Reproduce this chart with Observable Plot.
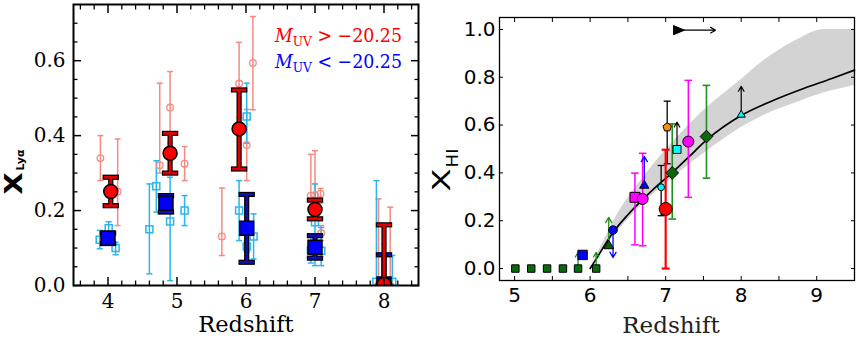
<!DOCTYPE html>
<html><head><meta charset="utf-8">
<script src="https://cdn.jsdelivr.net/npm/d3@7"></script>
<script src="https://cdn.jsdelivr.net/npm/@observablehq/plot@0.6"></script>
<style>
html,body{margin:0;padding:0;background:#fff;}
#wrap{position:relative;width:858px;height:340px;overflow:hidden;background:#fff;}
#left{position:absolute;left:0;top:0;}
#right{position:absolute;left:420px;top:0;}
</style></head><body>
<div id="wrap"><div id="left"></div><div id="right"></div></div>
<script>
// ================= LEFT PANEL DATA (redshift, X_Lya) =================
const bigRedX  = [4.04, 4.90, 5.90, 7.00, 8.00];
const bigRedY  = [0.251, 0.353, 0.418, 0.203, 0.003];
const bigRedLo = [0.213, 0.300, 0.311, 0.178, 0.000];
const bigRedHi = [0.289, 0.406, 0.522, 0.228, 0.162];

const bigBlueX  = [4.00, 4.84, 6.01, 7.00, 8.00];
const bigBlueY  = [0.126, 0.220, 0.153, 0.102, 0.004];
const bigBlueLo = [0.112, 0.196, 0.062, 0.073, 0.000];
const bigBlueHi = [0.140, 0.240, 0.243, 0.133, 0.082];

const faintRedX  = [3.89, 4.14, 4.75, 4.90, 5.11, 5.65, 5.90, 6.01, 6.10, 6.94, 7.00, 7.08, 7.09, 7.92, 8.00, 8.09];
const faintRedY  = [0.340, 0.251, 0.321, 0.475, 0.325, 0.131, 0.539, 0.375, 0.594, 0.240, 0.242, 0.245, 0.140, 0.000, 0.000, 0.000];
const faintRedLo = [0.280, 0.160, 0.300, 0.380, 0.280, 0.080, 0.450, 0.280, 0.469, 0.200, 0.200, 0.220, 0.120, 0.000, 0.000, 0.000];
const faintRedHi = [0.400, 0.391, 0.540, 0.571, 0.371, 0.260, 0.649, 0.470, 0.718, 0.350, 0.360, 0.259, 0.160, 0.231, 0.112, 0.209];

const faintBlueX  = [3.88, 4.01, 4.11, 4.60, 4.70, 4.90, 5.11, 5.90, 6.01, 6.01, 6.11, 6.94, 7.00, 7.09, 7.89, 8.12];
const faintBlueY  = [0.122, 0.153, 0.100, 0.150, 0.265, 0.171, 0.200, 0.200, 0.451, 0.104, 0.131, 0.095, 0.169, 0.093, 0.010, 0.010];
const faintBlueLo = [0.098, 0.135, 0.082, 0.031, 0.196, 0.013, 0.160, 0.120, 0.380, 0.090, 0.071, 0.060, 0.053, 0.053, 0.000, 0.000];
const faintBlueHi = [0.147, 0.170, 0.115, 0.271, 0.333, 0.289, 0.240, 0.280, 0.540, 0.120, 0.191, 0.130, 0.271, 0.155, 0.280, 0.080];

const leftXTicks = [4, 5, 6, 7, 8];
const leftXMinor = [3.6, 3.8, 4.2, 4.4, 4.6, 4.8, 5.2, 5.4, 5.6, 5.8, 6.2, 6.4, 6.6, 6.8, 7.2, 7.4, 7.6, 7.8, 8.2, 8.4];
const leftYTicks = [0, 0.2, 0.4, 0.6];
const leftYMinor = [0.05, 0.1, 0.15, 0.25, 0.3, 0.35, 0.45, 0.5, 0.55, 0.65, 0.7];

// ================= RIGHT PANEL DATA (redshift, X_HI) =================
const curveZ = [6.0, 6.1, 6.3, 6.5, 6.7, 6.9, 7.1, 7.3, 7.55, 8.0, 8.4, 8.8, 9.2, 9.5];
const curveX = [0.0, 0.05, 0.15, 0.225, 0.29, 0.35, 0.405, 0.465, 0.54, 0.64, 0.70, 0.75, 0.795, 0.83];
const bandZ  = [6.05, 6.35, 6.8, 7.25, 7.5, 8.0, 8.3, 8.7, 9.1, 9.5];
const bandHi = [0.03, 0.22, 0.42, 0.58, 0.66, 0.79, 0.87, 0.95, 1.0, 1.0];
const bandLo = [0.03, 0.15, 0.30, 0.42, 0.48, 0.59, 0.64, 0.69, 0.735, 0.766];

const greenSqZ = [5.01, 5.22, 5.43, 5.64, 5.84, 6.08];
const greenSqX = [0, 0, 0, 0, 0, 0];
const greenLimZ = [5.84, 6.08, 6.246];
const greenLimFrom = [0.0, 0.0, 0.095];
const greenLimTo = [0.068, 0.068, 0.214];
const blueSqZ = [5.90], blueSqX = [0.057];
const darkTriZ = [6.246], darkTriX = [0.095];
const blueCircZ = [6.303], blueCircX = [0.161], blueCircTo = [0.046];
const magSqZ = [6.593], magSqX = [0.298], magSqLo = [0.099], magSqHi = [0.399];
const magCircZ = [6.695, 7.30], magCircX = [0.291, 0.531], magCircLo = [0.095, 0.298], magCircHi = [0.482, 0.787];
const blueTriZ = [6.717], blueTriX = [0.347], blueTriTo = [0.469];
const cyanCircZ = [6.94], cyanCircX = [0.340], cyanCircLo = [0.221], cyanCircHi = [0.431];
const redCircZ = [7.00], redCircX = [0.249], redCircLo = [0.0], redCircHi = [0.497];
const pentZ = [7.02], pentX = [0.591], pentLo = [0.438], pentHi = [0.700];
const diaZ = [7.087, 7.54], diaX = [0.400, 0.552], diaLo = [0.207, 0.378], diaHi = [0.605, 0.766];
const cyanSqZ = [7.15], cyanSqX = [0.498], cyanSqTo = [0.612];
const cyanTriZ = [8.00], cyanTriX = [0.643], cyanTriTo = [0.762];
const blackTriZ = [7.17], blackTriX = [0.997], blackTriToZ = [7.66];

const rightXTicks = [5, 6, 7, 8, 9];
const rightXMinor = [5.5, 6.5, 7.5, 8.5];
const rightYTicks = [0, 0.2, 0.4, 0.6, 0.8, 1.0];

// ================= helpers =================
const rows = (xs, ys, los, his) => xs.map((x, i) => ({x, y: ys[i], lo: los ? los[i] : null, hi: his ? his[i] : null}));
const capSym = {draw(ctx, size) { const w = Math.sqrt(size) / 2; ctx.moveTo(-w, 0); ctx.lineTo(w, 0); }};
const capR = h => 2 * h / Math.sqrt(Math.PI);
const triRight = {draw(ctx, size) { const s = Math.sqrt(size); ctx.moveTo(0.6 * s, 0); ctx.lineTo(-0.5 * s, -0.46 * s); ctx.lineTo(-0.5 * s, 0.46 * s); ctx.closePath(); }};
const pentagon = {draw(ctx, size) { const R = Math.sqrt(size / 2.378); for (let i = 0; i < 5; i++) { const a = -Math.PI / 2 + i * 2 * Math.PI / 5; const px = R * Math.cos(a), py = R * Math.sin(a); if (i) ctx.lineTo(px, py); else ctx.moveTo(px, py); } ctx.closePath(); }};

function errbars(data, {color, width, capHalf, outline = 0, clip = true}) {
  const caps = data.flatMap(d => [{x: d.x, y: d.lo}, {x: d.x, y: d.hi}]);
  const marks = [];
  if (outline > 0) {
    marks.push(Plot.ruleX(data, {x: "x", y1: "lo", y2: "hi", stroke: "black", strokeWidth: width + 2 * outline, clip}));
    marks.push(Plot.dot(caps, {x: "x", y: "y", symbol: capSym, r: capR(capHalf + outline), fill: "none", stroke: "black", strokeWidth: width + 2 * outline, clip}));
  }
  marks.push(Plot.ruleX(data, {x: "x", y1: "lo", y2: "hi", stroke: color, strokeWidth: width, clip}));
  marks.push(Plot.dot(caps, {x: "x", y: "y", symbol: capSym, r: capR(capHalf), fill: "none", stroke: color, strokeWidth: width, clip}));
  return marks;
}

const bigRed = rows(bigRedX, bigRedY, bigRedLo, bigRedHi);
const bigBlue = rows(bigBlueX, bigBlueY, bigBlueLo, bigBlueHi);
const faintRed = rows(faintRedX, faintRedY, faintRedLo, faintRedHi);
const faintBlue = rows(faintBlueX, faintBlueY, faintBlueLo, faintBlueHi);

const SALMON = "#f58a80", SKY = "#2ab5ee";
const SERIF = "DejaVu Serif", SANS = "DejaVu Sans";

const left = Plot.plot({
  width: 420, height: 340,
  marginLeft: 73, marginRight: 2, marginTop: 4, marginBottom: 55,
  x: {domain: [3.5, 8.5], label: null},
  y: {domain: [0, 0.75], label: null},
  style: {fontFamily: SERIF, fontSize: "20px", background: "white", color: "black", overflow: "visible"},
  marks: [
    ...errbars(faintRed, {color: SALMON, width: 1.5, capHalf: 3}),
    ...errbars(faintBlue, {color: SKY, width: 1.5, capHalf: 3}),
    Plot.dot(faintRed, {x: "x", y: "y", r: 3.3, fill: "none", stroke: SALMON, strokeWidth: 1.3, clip: true}),
    Plot.dot(faintBlue, {x: "x", y: "y", symbol: "square", r: 3.95, fill: "none", stroke: SKY, strokeWidth: 1.5, clip: true}),
    ...errbars(bigBlue, {color: "#1010b0", width: 2.8, capHalf: 7, outline: 1.2}),
    Plot.dot(bigBlue, {x: "x", y: "y", symbol: "square", r: 7.9, fill: "#0000ff", stroke: "black", strokeWidth: 1.5, clip: true}),
    ...errbars(bigRed, {color: "#e00000", width: 2.8, capHalf: 7, outline: 1.2}),
    Plot.dot(bigRed, {x: "x", y: "y", r: 7, fill: "#ff0000", stroke: "black", strokeWidth: 1.5, clip: true}),
    Plot.frame({stroke: "black", strokeWidth: 2}),
    Plot.axisX({ticks: leftXTicks, tickSize: -8, tickPadding: 16, tickFormat: d => String(d), strokeWidth: 1.5, fontSize: 20, fontFamily: SERIF, label: null}),
    Plot.axisX({ticks: leftXMinor, tickSize: -4.5, tickFormat: () => "", strokeWidth: 1.3, label: null}),
    Plot.axisX({anchor: "top", ticks: leftXTicks, tickSize: -8, tickFormat: () => "", strokeWidth: 1.5, label: null}),
    Plot.axisX({anchor: "top", ticks: leftXMinor, tickSize: -4.5, tickFormat: () => "", strokeWidth: 1.3, label: null}),
    Plot.axisY({ticks: leftYTicks, tickSize: -8, tickPadding: 16, tickFormat: d3.format(".1f"), strokeWidth: 1.5, fontSize: 20, fontFamily: SERIF, label: null}),
    Plot.axisY({ticks: leftYMinor, tickSize: -4.5, tickFormat: () => "", strokeWidth: 1.3, label: null}),
    Plot.axisY({anchor: "right", ticks: leftYTicks, tickSize: -8, tickFormat: () => "", strokeWidth: 1.5, label: null}),
    Plot.axisY({anchor: "right", ticks: leftYMinor, tickSize: -4.5, tickFormat: () => "", strokeWidth: 1.3, label: null})
  ]
});
document.getElementById("left").appendChild(left);
d3.select(left).selectAll("text").style("font-family", SERIF).style("font-size", "20px");

function txt(sel, family, size) {
  return sel.append("text").style("font-family", family).style("font-size", size + "px");
}

// labels for left panel
{
  const s = d3.select(left);
  txt(s, SERIF, 22.5).attr("x", 246).attr("y", 332).attr("text-anchor", "middle").attr("fill", "black").text("Redshift");
  const yl = txt(s, SANS, 25).attr("transform", "translate(22,172) rotate(-90)").style("font-weight", "bold").attr("fill", "black");
  yl.append("tspan").attr("textLength", 22).attr("lengthAdjust", "spacingAndGlyphs").text("X");
  yl.append("tspan").style("font-size", "11px").attr("dy", 1.5).attr("dx", 2).text("Lyα");
  const leg = [["#ff0000", ">", 42], ["#0000ff", "<", 68]];
  for (const [c, op, y] of leg) {
    const t = txt(s, SERIF, 18.5).attr("x", 275).attr("y", y).attr("text-anchor", "start").attr("fill", c)
      .attr("textLength", 127).attr("lengthAdjust", "spacingAndGlyphs");
    t.append("tspan").style("font-style", "italic").style("font-family", SERIF).text("M");
    t.append("tspan").style("font-size", "13px").style("font-family", SERIF).attr("dy", 4).text("UV");
    t.append("tspan").style("font-family", SERIF).attr("dy", -4).text(" " + op + " −20.25");
  }
}

// ================= RIGHT PANEL =================
const curve = curveZ.map((x, i) => ({x, y: curveX[i]}));
const band = bandZ.map((x, i) => ({x, lo: bandLo[i], hi: bandHi[i]}));
const arrowsUp = (zs, from, to) => zs.map((x, i) => ({x1: x, y1: from[i], x2: x, y2: to[i]}));

const GREEN_SQ = "#0b6b0b", GREEN_L = "#1f8f1f", MAG = "#ff00ff", CYAN = "#00ffff";

const right = Plot.plot({
  width: 438, height: 340,
  marginLeft: 79, marginRight: 4, marginTop: 17, marginBottom: 60,
  x: {domain: [4.8, 9.5], label: null},
  y: {domain: [-0.05, 1.05], label: null},
  style: {fontFamily: SANS, fontSize: "20px", background: "white", color: "black", overflow: "visible"},
  marks: [
    Plot.areaY(band, {x: "x", y1: "lo", y2: "hi", fill: "#d3d3d3", curve: "monotone-x"}),
    Plot.line(curve, {x: "x", y: "y", stroke: "black", strokeWidth: 1.7, curve: "monotone-x"}),
    ...errbars(rows(magSqZ, magSqX, magSqLo, magSqHi), {color: MAG, width: 1.5, capHalf: 3.8, clip: false}),
    ...errbars(rows(magCircZ, magCircX, magCircLo, magCircHi), {color: MAG, width: 1.5, capHalf: 3.8, clip: false}),
    ...errbars(rows(cyanCircZ, cyanCircX, cyanCircLo, cyanCircHi), {color: "black", width: 1.3, capHalf: 3.5, clip: false}),
    ...errbars(rows(pentZ, pentX, pentLo, pentHi), {color: "black", width: 1.3, capHalf: 3.5, clip: false}),
    ...errbars(rows(redCircZ, redCircX, redCircLo, redCircHi), {color: "#ff0000", width: 2.2, capHalf: 4, clip: false}),
    ...errbars(rows(diaZ, diaX, diaLo, diaHi), {color: GREEN_L, width: 1.6, capHalf: 3.8, clip: false}),
    Plot.arrow(arrowsUp(greenLimZ, greenLimFrom, greenLimTo), {x1: "x1", y1: "y1", x2: "x2", y2: "y2", stroke: GREEN_L, strokeWidth: 1.3, headLength: 7}),
    Plot.arrow(arrowsUp(blueCircZ, blueCircX, blueCircTo), {x1: "x1", y1: "y1", x2: "x2", y2: "y2", stroke: "#0000ff", strokeWidth: 1.3, headLength: 7}),
    Plot.arrow(arrowsUp(blueTriZ, blueTriX, blueTriTo), {x1: "x1", y1: "y1", x2: "x2", y2: "y2", stroke: "#0000ff", strokeWidth: 1.3, headLength: 7}),
    Plot.arrow(arrowsUp(cyanSqZ, cyanSqX, cyanSqTo), {x1: "x1", y1: "y1", x2: "x2", y2: "y2", stroke: "black", strokeWidth: 1.2, headLength: 7}),
    Plot.arrow(arrowsUp(cyanTriZ, cyanTriX, cyanTriTo), {x1: "x1", y1: "y1", x2: "x2", y2: "y2", stroke: "black", strokeWidth: 1.2, headLength: 7}),
    Plot.arrow(blackTriZ.map((x, i) => ({x1: x, y1: blackTriX[i], x2: blackTriToZ[i], y2: blackTriX[i]})), {x1: "x1", y1: "y1", x2: "x2", y2: "y2", stroke: "black", strokeWidth: 1.2, headLength: 7}),
    Plot.dot(rows(greenSqZ, greenSqX), {x: "x", y: "y", symbol: "square", r: 4.2, fill: GREEN_SQ, stroke: "black", strokeWidth: 1}),
    Plot.dot(rows(blueSqZ, blueSqX), {x: "x", y: "y", symbol: "square", r: 5.3, fill: "#0000ff", stroke: "black", strokeWidth: 1}),
    Plot.dot(rows(darkTriZ, darkTriX), {x: "x", y: "y", symbol: "triangle", r: 3.7, fill: "#0a5a0a", stroke: "black", strokeWidth: 1}),
    Plot.dot(rows(blueCircZ, blueCircX), {x: "x", y: "y", r: 4.3, fill: "#0000ff", stroke: "black", strokeWidth: 1}),
    Plot.dot(rows(magSqZ, magSqX), {x: "x", y: "y", symbol: "square", r: 5.6, fill: MAG, stroke: "black", strokeWidth: 1}),
    Plot.dot(rows(magCircZ, magCircX), {x: "x", y: "y", r: 5.5, fill: MAG, stroke: "black", strokeWidth: 1}),
    Plot.dot(rows(blueTriZ, blueTriX), {x: "x", y: "y", symbol: "triangle", r: 3.4, fill: "#0000ff", stroke: "black", strokeWidth: 1}),
    Plot.dot(rows(cyanCircZ, cyanCircX), {x: "x", y: "y", r: 3.4, fill: CYAN, stroke: "black", strokeWidth: 1}),
    Plot.dot(rows(redCircZ, redCircX), {x: "x", y: "y", r: 6.5, fill: "#ff0000", stroke: "black", strokeWidth: 1}),
    Plot.dot(rows(pentZ, pentX), {x: "x", y: "y", symbol: pentagon, r: 3.9, fill: "#ff8c00", stroke: "black", strokeWidth: 1}),
    Plot.dot(rows(diaZ, diaX), {x: "x", y: "y", symbol: "diamond2", r: 5.7, fill: "#0a6a0a", stroke: "black", strokeWidth: 1}),
    Plot.dot(rows(cyanSqZ, cyanSqX), {x: "x", y: "y", symbol: "square", r: 4.5, fill: CYAN, stroke: "black", strokeWidth: 1}),
    Plot.dot(rows(cyanTriZ, cyanTriX), {x: "x", y: "y", symbol: "triangle", r: 3.0, fill: CYAN, stroke: "black", strokeWidth: 1}),
    Plot.dot(rows(blackTriZ, blackTriX), {x: "x", y: "y", symbol: triRight, r: 5.6, fill: "black", stroke: "black", strokeWidth: 1}),
    Plot.frame({stroke: "black", strokeWidth: 1.3}),
    Plot.axisX({ticks: rightXTicks, tickSize: -4, tickPadding: 11, tickFormat: d => String(d), strokeWidth: 1, fontSize: 20, fontFamily: SANS, label: null}),
    Plot.axisX({ticks: rightXMinor, tickSize: -4, tickFormat: () => "", strokeWidth: 1, label: null}),
    Plot.axisX({anchor: "top", ticks: rightXTicks.concat(rightXMinor), tickSize: -4, tickFormat: () => "", strokeWidth: 1, label: null}),
    Plot.axisY({ticks: rightYTicks, tickSize: -4, tickPadding: 8, tickFormat: d3.format(".1f"), strokeWidth: 1, fontSize: 20, fontFamily: SANS, label: null}),
    Plot.axisY({anchor: "right", ticks: rightYTicks, tickSize: -4, tickFormat: () => "", strokeWidth: 1, label: null})
  ]
});
document.getElementById("right").appendChild(right);
d3.select(right).selectAll("text").style("font-family", SANS).style("font-size", "20px");

{
  const s = d3.select(right);
  txt(s, SERIF, 23).attr("x", 251).attr("y", 333).attr("text-anchor", "middle").attr("fill", "#222").text("Redshift");
  const yl = txt(s, SANS, 25).attr("transform", "translate(30,170) rotate(-90)").attr("fill", "black");
  yl.append("tspan").attr("textLength", 23).attr("lengthAdjust", "spacingAndGlyphs").text("X");
  yl.append("tspan").style("font-size", "15px").attr("dy", 8).attr("dx", 1).attr("textLength", 19).attr("lengthAdjust", "spacingAndGlyphs").text("HI");
}
</script>
</body></html>
